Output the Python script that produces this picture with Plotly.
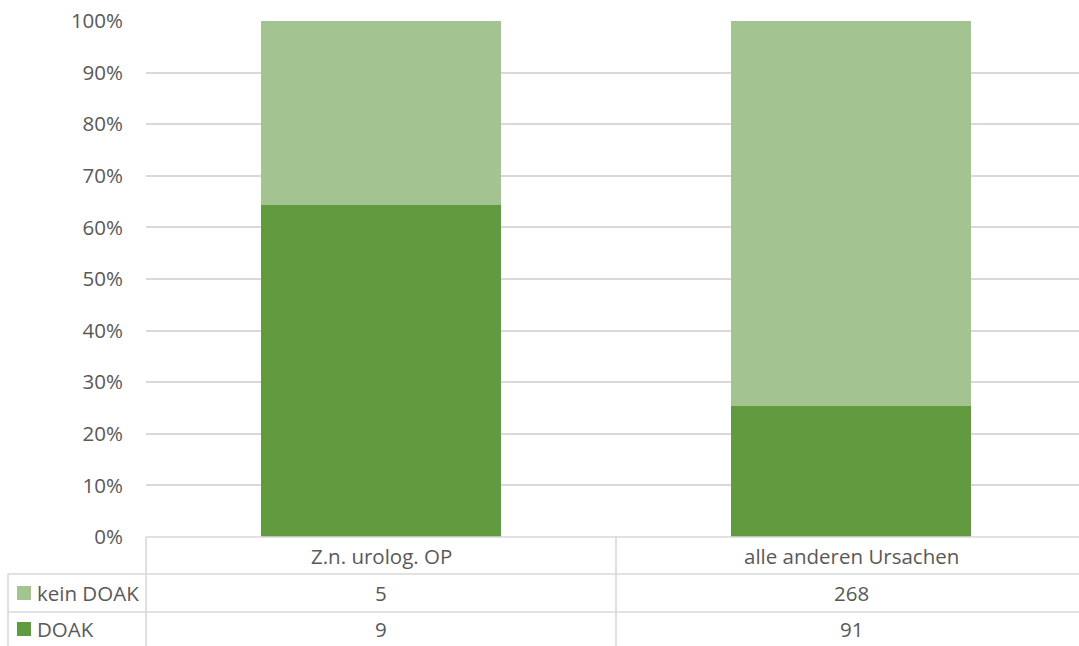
import plotly.graph_objects as go

# Counts per cause and anticoagulation status
categories = ["Z.n. urolog. OP", "alle anderen Ursachen"]
series_names = ["DOAK", "kein DOAK"]
doak = [9, 91]
kein_doak = [5, 268]
y_ticks = [0, 0.1, 0.2, 0.3, 0.4, 0.5, 0.6, 0.7, 0.8, 0.9, 1.0]

W, H = 1079, 646
TEXT = "#595959"
GRID = "#D9D9D9"
FONT = "Open Sans"
FS = 20.5
colors = {"DOAK": "#629A3F", "kein DOAK": "#A3C490"}

totals = [a + b for a, b in zip(doak, kein_doak)]
share_doak = [a / t for a, t in zip(doak, totals)]
share_kein = [b / t for b, t in zip(kein_doak, totals)]


def px(x):
    return x / W


def py(y):
    return 1 - y / H


fig = go.Figure()
fig.add_trace(go.Bar(x=categories, y=share_doak, name="DOAK",
                     marker=dict(color=colors["DOAK"], line=dict(width=0)),
                     width=0.511, showlegend=False))
fig.add_trace(go.Bar(x=categories, y=share_kein, name="kein DOAK",
                     marker=dict(color=colors["kein DOAK"], line=dict(width=0)),
                     width=0.511, showlegend=False))

plot_left, plot_top, plot_bottom = 146, 21, 537
row1, row2 = 574, 612
col_mid = 616
label_left = 8

fig.update_layout(
    template="none",
    width=W, height=H,
    margin=dict(l=0, r=0, t=0, b=0, autoexpand=False),
    paper_bgcolor="white", plot_bgcolor="white",
    barmode="stack",
    showlegend=False,
    font=dict(family=FONT, size=FS, color=TEXT),
    xaxis=dict(domain=[px(plot_left), 1], range=[-0.5, -0.5 + (W - plot_left) / 470],
               showticklabels=False, showgrid=False, zeroline=False, showline=False,
               type="category", automargin=False, fixedrange=True),
    yaxis=dict(domain=[py(plot_bottom), py(plot_top)], range=[0, 1],
               tickvals=y_ticks, tickformat=".0%", showgrid=True, gridcolor=GRID,
               gridwidth=1.5, zeroline=False, showline=False, ticks="",
               ticklabelstandoff=22, tickfont=dict(size=FS, color=TEXT),
               automargin=False, fixedrange=True),
)

# Data table grid lines
line = dict(color=GRID, width=1.6)
table_lines = [
    (plot_left, plot_bottom, W, plot_bottom),
    (label_left, row1, W, row1),
    (label_left, row2, W, row2),
    (plot_left, plot_bottom, plot_left, H),
    (col_mid, plot_bottom, col_mid, H),
    (label_left, row1, label_left, H),
]
for x0, y0, x1, y1 in table_lines:
    fig.add_shape(type="line", xref="paper", yref="paper",
                  x0=px(x0), y0=py(y0), x1=px(x1), y1=py(y1), line=line)

# Category header row
for cat in categories:
    fig.add_annotation(x=cat, xref="x", y=py((plot_bottom + row1) / 2), yref="paper",
                       text=cat, showarrow=False, xanchor="center", yanchor="middle",
                       font=dict(size=FS, color=TEXT))

# Value rows with legend keys
rows = [("kein DOAK", kein_doak, (row1 + row2) / 2), ("DOAK", doak, row2 + 17)]
for name, vals, yc in rows:
    fig.add_shape(type="rect", xref="paper", yref="paper",
                  x0=px(17), x1=px(31), y0=py(yc - 7), y1=py(yc + 7),
                  fillcolor=colors[name], line=dict(width=0))
    fig.add_annotation(x=px(35), xref="paper", y=py(yc), yref="paper", text=name,
                       showarrow=False, xanchor="left", yanchor="middle",
                       font=dict(size=FS, color=TEXT))
    for cat, v in zip(categories, vals):
        fig.add_annotation(x=cat, xref="x", y=py(yc), yref="paper", text=str(v),
                           showarrow=False, xanchor="center", yanchor="middle",
                           font=dict(size=FS, color=TEXT))

fig.write_html("out.html")
